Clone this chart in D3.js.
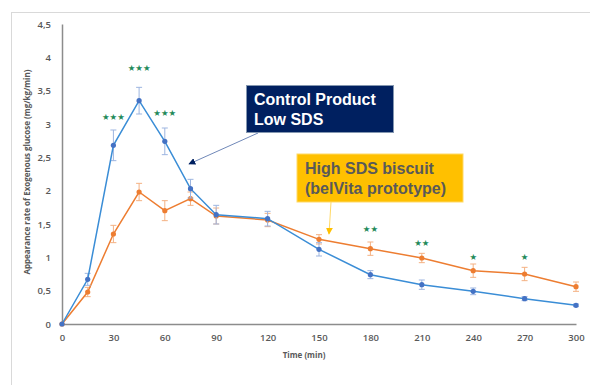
<!DOCTYPE html>
<html>
<head>
<meta charset="utf-8">
<script src="https://cdn.jsdelivr.net/npm/d3@7"></script>
<style>
  body { margin: 0; background: #fff; }
  svg { display: block; }
</style>
</head>
<body>
<div id="chart"></div>
<script>
// data
const times = [0, 15, 30, 45, 60, 75, 90, 120, 150, 180, 210, 240, 270, 300];
const controlValues = [0, 0.67, 2.68, 3.35, 2.74, 2.03, 1.64, 1.58, 1.12, 0.74, 0.59, 0.49, 0.38, 0.28];
const controlErrors = [0, 0.09, 0.23, 0.2, 0.2, 0.14, 0.14, 0.11, 0.1, 0.06, 0.07, 0.05, 0.03, 0.02];
const biscuitValues = [0, 0.48, 1.35, 1.98, 1.70, 1.88, 1.62, 1.56, 1.27, 1.13, 0.99, 0.80, 0.75, 0.56];
const biscuitErrors = [0, 0.07, 0.13, 0.13, 0.15, 0.1, 0.12, 0.1, 0.07, 0.1, 0.07, 0.1, 0.1, 0.07];
const xTicks = [0, 30, 60, 90, 120, 150, 180, 210, 240, 270, 300];
const yTicks = [0, 0.5, 1, 1.5, 2, 2.5, 3, 3.5, 4, 4.5];
const starTimes = [30, 45, 60, 180, 210, 240, 270];
const starLevels = [3.11, 3.85, 3.18, 1.43, 1.23, 1.02, 1.02];
const starLabels = ['★★★', '★★★', '★★★', '★★', '★★', '★', '★'];

const width = 590, height = 385;
const margin = { top: 24, right: 14, bottom: 61, left: 62 };

const svg = d3.select('#chart').append('svg')
    .attr('width', width)
    .attr('height', height);

// outer frame (light gray, runs off right/bottom)
svg.append('rect')
    .attr('x', 11.5).attr('y', 12.5)
    .attr('width', width + 10).attr('height', height + 10)
    .attr('fill', 'none')
    .attr('stroke', '#d9d9d9');

const x = d3.scaleLinear().domain([0, 300]).range([margin.left, width - margin.right]);
const y = d3.scaleLinear().domain([0, 4.5]).range([height - margin.bottom, margin.top]);

const tickFmt = d => String(d).replace('.', ',');

// axes
const xAxis = svg.append('g')
    .attr('transform', `translate(0,${y(0)})`)
    .call(d3.axisBottom(x).tickValues(xTicks).tickSize(0).tickPadding(10).tickFormat(tickFmt));
const yAxis = svg.append('g')
    .attr('transform', `translate(${x(0)},0)`)
    .call(d3.axisLeft(y).tickValues(yTicks).tickSize(0).tickPadding(11).tickFormat(tickFmt));

[xAxis, yAxis].forEach(ax => {
    ax.select('.domain').attr('stroke', '#8c8c8c').attr('stroke-width', 1.5);
    ax.selectAll('text')
        .attr('fill', '#595959')
        .style('font-family', '"Open Sans", "Liberation Sans", sans-serif')
        .style('font-size', '9.5px')
        .style('font-weight', '600');
});

// axis titles
svg.append('text')
    .attr('x', x(150) - 15).attr('y', 358)
    .attr('text-anchor', 'middle')
    .attr('fill', '#595959')
    .style('font-family', '"Open Sans", "Liberation Sans", sans-serif')
    .style('font-size', '8px')
    .style('font-weight', '700')
    .text('Time (min)');

svg.append('text')
    .attr('transform', `translate(30,172) rotate(-90)`)
    .attr('text-anchor', 'middle')
    .attr('fill', '#595959')
    .style('font-family', '"Open Sans", "Liberation Sans", sans-serif')
    .style('font-size', '8px')
    .style('font-weight', '700')
    .text('Appearance rate of Exogenous glucose (mg/kg/min)');

const series = [
    { values: biscuitValues, errors: biscuitErrors, line: '#ed7d31', marker: '#ed7d31', err: '#f4b183' },
    { values: controlValues, errors: controlErrors, line: '#3a8dd6', marker: '#4472c4', err: '#9db5e0' }
];

const line = d3.line().x(d => x(d.t)).y(d => y(d.v));

series.forEach(s => {
    const pts = times.map((t, i) => ({ t, v: s.values[i], e: s.errors[i] }));
    const g = svg.append('g');

    // error bars
    const eb = g.selectAll('.err').data(pts.filter(p => p.e > 0)).enter().append('g')
        .attr('stroke', s.err).attr('stroke-width', 1);
    eb.append('line')
        .attr('x1', d => x(d.t)).attr('x2', d => x(d.t))
        .attr('y1', d => y(d.v - d.e)).attr('y2', d => y(d.v + d.e));
    eb.append('line')
        .attr('x1', d => x(d.t) - 3).attr('x2', d => x(d.t) + 3)
        .attr('y1', d => y(d.v + d.e)).attr('y2', d => y(d.v + d.e));
    eb.append('line')
        .attr('x1', d => x(d.t) - 3).attr('x2', d => x(d.t) + 3)
        .attr('y1', d => y(d.v - d.e)).attr('y2', d => y(d.v - d.e));

    g.append('path')
        .datum(pts)
        .attr('d', line)
        .attr('fill', 'none')
        .attr('stroke', s.line)
        .attr('stroke-width', 1.5);

    g.selectAll('.pt').data(pts).enter().append('circle')
        .attr('cx', d => x(d.t)).attr('cy', d => y(d.v))
        .attr('r', 2.6)
        .attr('fill', s.marker);
});

// significance stars
svg.selectAll('.star').data(starTimes).enter().append('text')
    .attr('x', d => x(d))
    .attr('y', (d, i) => y(starLevels[i]) + 3.5)
    .attr('text-anchor', 'middle')
    .attr('fill', '#1f8a5a')
    .style('font-family', '"DejaVu Sans", sans-serif')
    .style('font-size', '8.5px')
    .text((d, i) => starLabels[i]);

// arrowheads
const defs = svg.append('defs');
defs.append('marker')
    .attr('id', 'navyHead').attr('viewBox', '0 0 10 10')
    .attr('refX', 9).attr('refY', 5)
    .attr('markerWidth', 7).attr('markerHeight', 7)
    .attr('markerUnits', 'userSpaceOnUse')
    .attr('orient', 'auto')
    .append('path').attr('d', 'M0,0L10,5L0,10Z').attr('fill', '#002060');
defs.append('marker')
    .attr('id', 'yellowHead').attr('viewBox', '0 0 10 10')
    .attr('refX', 9).attr('refY', 5)
    .attr('markerWidth', 7).attr('markerHeight', 7)
    .attr('markerUnits', 'userSpaceOnUse')
    .attr('orient', 'auto')
    .append('path').attr('d', 'M0,0L10,5L0,10Z').attr('fill', '#ffc000');

const calloutFont = '"Liberation Sans", Arial, sans-serif';

// control product callout
svg.append('line')
    .attr('x1', 258).attr('y1', 133).attr('x2', 189).attr('y2', 164)
    .attr('stroke', '#7088b8').attr('stroke-width', 1)
    .attr('marker-end', 'url(#navyHead)');
svg.append('rect')
    .attr('x', 246.5).attr('y', 85.5).attr('width', 147).attr('height', 47)
    .attr('fill', '#002060').attr('stroke', '#8497b0').attr('stroke-width', 1);
svg.append('text')
    .attr('fill', '#ffffff')
    .style('font-family', calloutFont)
    .style('font-size', '16px')
    .style('font-weight', '700')
    .selectAll('tspan').data(['Control Product', 'Low SDS']).enter().append('tspan')
    .attr('x', 254).attr('y', (d, i) => 105 + i * 20)
    .text(d => d);

// high SDS biscuit callout
svg.append('line')
    .attr('x1', 331).attr('y1', 202).attr('x2', 329).attr('y2', 234)
    .attr('stroke', '#ffd966').attr('stroke-width', 1)
    .attr('marker-end', 'url(#yellowHead)');
svg.append('rect')
    .attr('x', 297).attr('y', 154).attr('width', 166).attr('height', 48)
    .attr('fill', '#ffc000').attr('stroke', '#ffd966').attr('stroke-width', 1);
svg.append('text')
    .attr('fill', '#595959')
    .style('font-family', calloutFont)
    .style('font-size', '16px')
    .style('font-weight', '700')
    .selectAll('tspan').data(['High SDS biscuit', '(belVita prototype)']).enter().append('tspan')
    .attr('x', 305).attr('y', (d, i) => 174 + i * 20)
    .text(d => d);
</script>
</body>
</html>
